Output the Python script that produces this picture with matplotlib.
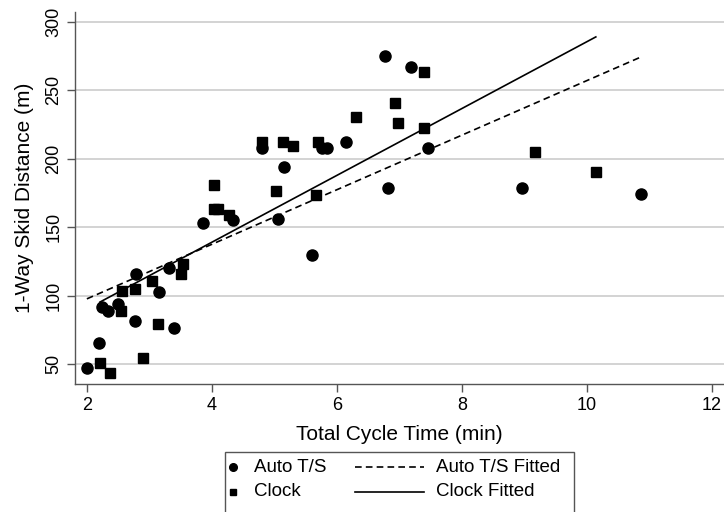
import numpy as np
import matplotlib
matplotlib.use("Agg")
import matplotlib.pyplot as plt
from matplotlib.lines import Line2D
from matplotlib.patches import Rectangle

plt.rcParams['font.family'] = ['Liberation Sans', 'DejaVu Sans']

# Auto T/S observations (min, m)
auto_x = [2.00, 2.20, 2.24, 2.33, 2.50, 2.77, 2.79, 3.16, 3.32, 3.40, 3.85, 4.33, 4.80,
          5.05, 5.16, 5.60, 5.76, 5.84, 6.15, 6.77, 6.81, 7.18, 7.45, 8.96, 10.86]
auto_y = [47.5, 65.6, 91.4, 88.8, 93.6, 81.7, 115.9, 102.7, 119.8, 76.3, 153.0, 155.5, 207.7,
          156.2, 193.6, 130.0, 207.5, 208.0, 212.3, 275.1, 178.6, 266.8, 207.9, 178.6, 174.5]

# Clock observations
clock_x = [2.21, 2.37, 2.54, 2.56, 2.77, 2.90, 3.04, 3.14, 3.51, 3.54, 4.03, 4.04, 4.10, 4.27,
           4.80, 5.02, 5.13, 5.29, 5.66, 5.69, 6.31, 6.93, 6.97, 7.39, 7.39, 9.17, 10.14]
clock_y = [50.7, 43.8, 88.8, 103.4, 104.6, 54.4, 110.5, 79.3, 115.9, 123.2, 181.0, 163.5, 163.5, 158.6,
           212.0, 176.0, 212.3, 209.4, 173.3, 212.3, 230.6, 240.4, 225.8, 262.9, 222.6, 204.5, 189.9]

# fitted lines (intercept, slope)
auto_fit = (57.8, 19.92)
clock_fit = (41.4, 24.4)

xticks = [2, 4, 6, 8, 10, 12]
yticks = [50, 100, 150, 200, 250, 300]

W, H = 724, 512
fig = plt.figure(figsize=(W / 100, H / 100), dpi=100)
ax = fig.add_axes([75 / W, 1 - 384 / H, 649 / W, 372 / H])

ax.set_xlim(1.81, 12.19)
ax.set_ylim(35.5, 307)

for yv in yticks:
    ax.axhline(yv, color='#cccccc', lw=1.2, zorder=0)

ax.plot(auto_x, auto_y, 'o', color='black', markersize=8, linestyle='none', zorder=3)
ax.plot(clock_x, clock_y, 's', color='black', markersize=7.2, linestyle='none', zorder=3)

xa = np.array([min(auto_x), max(auto_x)])
ax.plot(xa, auto_fit[0] + auto_fit[1] * xa, color='black', lw=1.2, dashes=[4, 2.5], zorder=4)
xc = np.array([min(clock_x), max(clock_x)])
ax.plot(xc, clock_fit[0] + clock_fit[1] * xc, color='black', lw=1.2, zorder=4)

ax.set_xticks(xticks)
ax.set_yticks(yticks)
ax.tick_params(axis='both', direction='out', length=6, width=1, color='#555555',
               labelsize=13, pad=3)
for lab in ax.get_yticklabels():
    lab.set_rotation(90)
    lab.set_va('center')
    lab.set_family(['Liberation Sans Narrow', 'Liberation Sans'])

for s in ['top', 'right']:
    ax.spines[s].set_visible(False)
for s in ['left', 'bottom']:
    ax.spines[s].set_color('#555555')
    ax.spines[s].set_linewidth(1.0)

ax.set_xlabel('Total Cycle Time (min)', fontsize=15, labelpad=8)
ax.set_ylabel('1-Way Skid Distance (m)', fontsize=15, labelpad=8)

# legend box drawn in figure pixel space
def fx(px):
    return px / W

def fy(py):
    return 1 - py / H

fig.add_artist(Rectangle((fx(225), fy(516)), fx(574) - fx(225), fy(452) - fy(516),
                         transform=fig.transFigure, fill=False, edgecolor='#555555', lw=1.0))
fig.add_artist(Line2D([fx(233)], [fy(467)], marker='o', color='black', markersize=5.5,
                      transform=fig.transFigure))
fig.add_artist(Line2D([fx(233)], [fy(492)], marker='s', color='black', markersize=5,
                      transform=fig.transFigure))
fig.add_artist(Line2D([fx(355), fx(424)], [fy(467), fy(467)], color='black', lw=1.2,
                      dashes=[4, 2.5], transform=fig.transFigure))
fig.add_artist(Line2D([fx(355), fx(424)], [fy(492), fy(492)], color='black', lw=1.2,
                      transform=fig.transFigure))
fig.text(fx(254), fy(467), 'Auto T/S', fontsize=13.5, va='center')
fig.text(fx(254), fy(492), 'Clock', fontsize=13.5, va='center')
fig.text(fx(436), fy(467), 'Auto T/S Fitted', fontsize=13.5, va='center')
fig.text(fx(436), fy(492), 'Clock Fitted', fontsize=13.5, va='center')

fig.savefig('out.png', dpi=100)
